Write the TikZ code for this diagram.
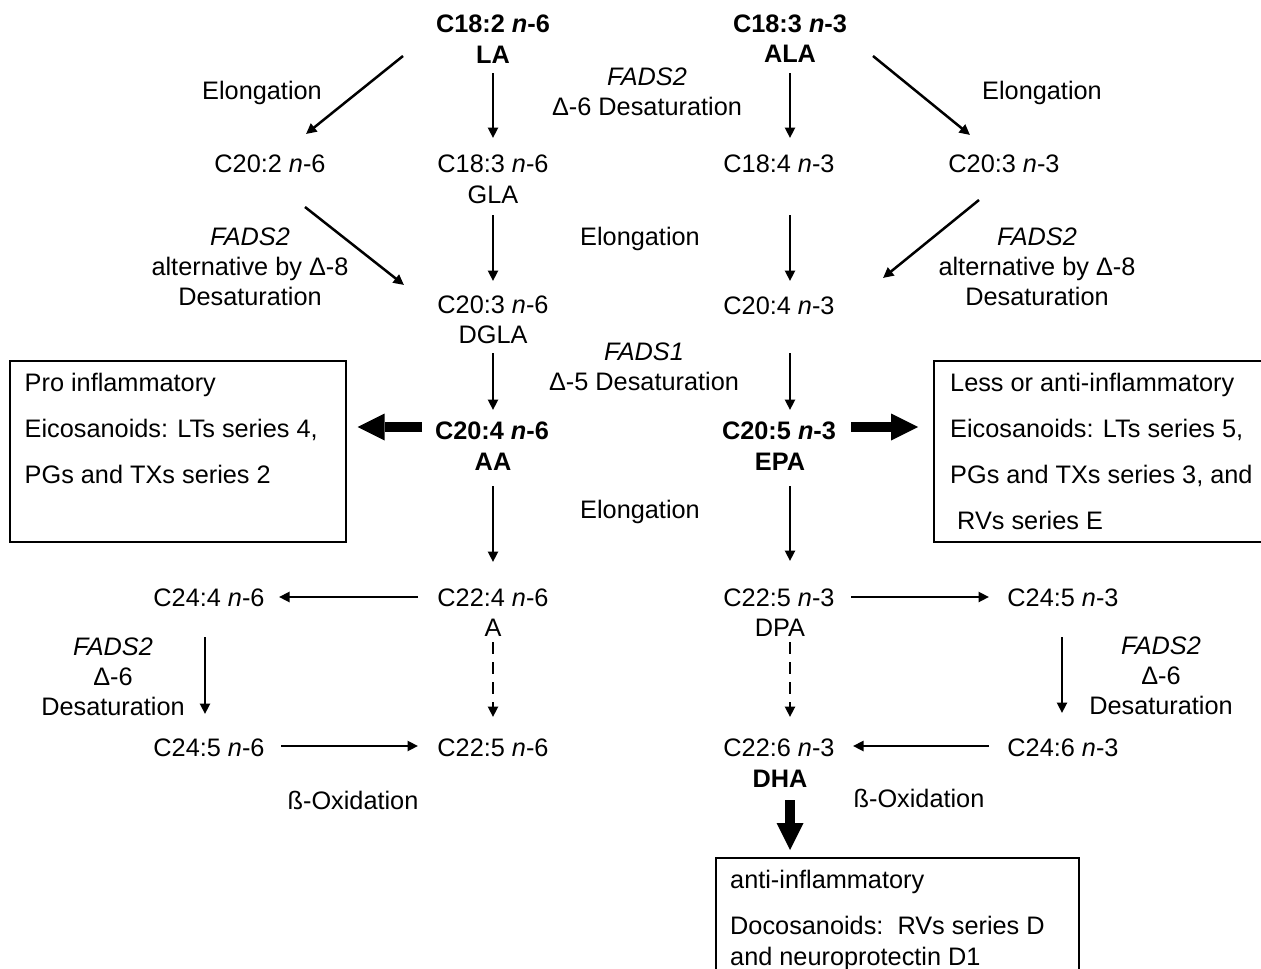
\documentclass[tikz,border=0pt]{standalone}
\usepackage{fontspec}
\setmainfont{Liberation Sans}
\usetikzlibrary{arrows.meta,calc}
\begin{document}
\begin{tikzpicture}[x=1pt,y=-1pt,
  t/.style={font=\fontsize{25.3}{30}\selectfont, inner sep=0pt, text height=18pt, text depth=0pt},
  tb/.style={font=\fontsize{25.3}{30}\selectfont\bfseries, inner sep=0pt, text height=18pt, text depth=0pt},
  ml/.style={font=\fontsize{25.3}{30}\selectfont, inner sep=0pt, align=center},
  boxtext/.style={font=\fontsize{25.3}{46}\selectfont, inner sep=0pt, align=left, anchor=north west},
  box/.style={draw, line width=1.6pt, inner sep=0pt, anchor=north west},
  arr/.style={line width=2.5pt, -{Triangle[length=10.5pt,width=10pt]}},
  dsh/.style={dash pattern=on 12pt off 8pt},
  fat/.style={line width=9.5pt, -{Triangle[length=27pt,width=27pt,line width=0pt]}}
]
\useasboundingbox (0,0) rectangle (1261,969);
\clip (0,0) rectangle (1261,969);

% top row
\node[tb] (LAa) at (493,23) {C18:2 \textit{n}-6};
\node[tb] (LA) at (493,54) {LA};
\node[tb] (ALAa) at (790,23) {C18:3 \textit{n}-3};
\node[tb] (ALA) at (790,53) {ALA};
\node[t] (elo1) at (262,90) {Elongation};
\node[ml] (fads2a) at (647,92) {\textit{FADS2}\\Δ-6 Desaturation};
\node[t] (elo2) at (1042,90) {Elongation};

\node[t] (C202) at (270,163) {C20:2 \textit{n}-6};
\node[t] (GLAa) at (493,163) {C18:3 \textit{n}-6};
\node[t] (GLA) at (493,194) {GLA};
\node[t] (C184) at (779,163) {C18:4 \textit{n}-3};
\node[t] (C203) at (1004,163) {C20:3 \textit{n}-3};

\node[ml] (alt1) at (250,267) {\textit{FADS2}\\alternative by Δ-8\\Desaturation};
\node[t] (elo3) at (640,236) {Elongation};
\node[ml] (alt2) at (1037,267) {\textit{FADS2}\\alternative by Δ-8\\Desaturation};

\node[t] (DGLAa) at (493,304) {C20:3 \textit{n}-6};
\node[t] (DGLA) at (493,334) {DGLA};
\node[t] (C204) at (779,305) {C20:4 \textit{n}-3};
\node[ml] (fads1) at (644,367) {\textit{FADS1}\\Δ-5 Desaturation};

\node[tb] (AAa) at (492,430) {C20:4 \textit{n}-6};
\node[tb] (AA) at (493,461) {AA};
\node[tb] (EPAa) at (779,430) {C20:5 \textit{n}-3};
\node[tb] (EPA) at (780,461) {EPA};
\node[t] (elo4) at (640,509) {Elongation};

% boxes
\node[box, minimum width=336pt, minimum height=181pt] (boxL) at (9,360) {};
\node[boxtext] (boxLt) at (24.5,373) {Pro inflammatory\\Eicosanoids: LTs series 4,\\PGs and TXs series 2};
\node[box, minimum width=340pt, minimum height=181pt] (boxR) at (933,360) {};
\node[boxtext] (boxRt) at (950,373) {Less or anti-inflammatory\\Eicosanoids: LTs series 5,\\PGs and TXs series 3, and\\\hspace*{7pt}RVs series E};
\node[box, minimum width=363pt, minimum height=140pt] (boxB) at (715,857) {};
\node[boxtext] (boxBt) at (730,870) {anti-inflammatory\\Docosanoids:\ \ RVs series D\\[-15pt]and neuroprotectin D1};

% lower part
\node[t] (C224a) at (493,597) {C22:4 \textit{n}-6};
\node[t] (C224) at (493,627) {A};
\node[t] (C244) at (209,597) {C24:4 \textit{n}-6};
\node[t] (C225a) at (779,597) {C22:5 \textit{n}-3};
\node[t] (DPA) at (780,627) {DPA};
\node[t] (C245b) at (1063,597) {C24:5 \textit{n}-3};
\node[ml] (d6a) at (113,677) {\textit{FADS2}\\Δ-6\\Desaturation};
\node[ml] (d6b) at (1161,676) {\textit{FADS2}\\Δ-6\\Desaturation};
\node[t] (C245) at (209,747) {C24:5 \textit{n}-6};
\node[t] (C225) at (493,747) {C22:5 \textit{n}-6};
\node[t] (C226) at (779,747) {C22:6 \textit{n}-3};
\node[tb] (DHA) at (780,778) {DHA};
\node[t] (C246) at (1063,747) {C24:6 \textit{n}-3};
\node[t] (boxi1) at (353,800) {ß-Oxidation};
\node[t] (boxi2) at (919,798) {ß-Oxidation};

% connectors
\draw[arr] ($(LA)+(-90,2)$) -- ($(C202)+(36,-29)$);
\draw[arr] ($(LA)+(0,19)$) -- ($(GLAa)+(0,-25)$);
\draw[arr] ($(ALA)+(0,20)$) -- ($(C184)+(11,-25)$);
\draw[arr] ($(ALA)+(83,3)$) -- ($(C203)+(-34,-28)$);
\draw[arr] ($(C202)+(35,44)$) -- ($(DGLAa)+(-89,-19)$);
\draw[arr] ($(GLA)+(0,21)$) -- ($(DGLAa)+(0,-23)$);
\draw[arr] ($(C184)+(11,52)$) -- ($(C204)+(11,-24)$);
\draw[arr] ($(C203)+(-25,37)$) -- ($(C204)+(104,-27)$);
\draw[arr] ($(DGLA)+(0,19)$) -- ($(AAa)+(1,-20)$);
\draw[arr] ($(C204)+(11,48)$) -- ($(EPAa)+(11,-20)$);
\draw[fat] ($(AAa)+(-70,-3)$) -- ($(boxL.east |- AAa)+(11,-3)$);
\draw[fat] ($(EPAa)+(72,-3)$) -- ($(boxR.west |- EPAa)+(-15,-3)$);
\draw[arr] ($(AA)+(0,25)$) -- ($(C224a)+(0,-35)$);
\draw[arr] ($(EPA)+(10,25)$) -- ($(C225a)+(11,-36)$);
\draw[arr] ($(C224a)+(-75,0)$) -- ($(C244)+(70,0)$);
\draw[arr] ($(C225a)+(72,0)$) -- ($(C245b)+(-74,0)$);
\draw[arr,dsh] ($(C224)+(0,15)$) -- ($(C225)+(0,-30)$);
\draw[arr,dsh] ($(DPA)+(10,15)$) -- ($(C226)+(11,-30)$);
\draw[arr] ($(C244)+(-4,40)$) -- ($(C245)+(-4,-33)$);
\draw[arr] ($(C245b)+(-1,40)$) -- ($(C246)+(-1,-34)$);
\draw[arr] ($(C245)+(72,-1)$) -- ($(C225)+(-75,-1)$);
\draw[arr] ($(C246)+(-74,-1)$) -- ($(C226)+(74,-1)$);
\draw[fat] ($(DHA)+(10,22)$) -- ($(boxB.north -| DHA)+(10,-7)$);
\end{tikzpicture}
\end{document}
